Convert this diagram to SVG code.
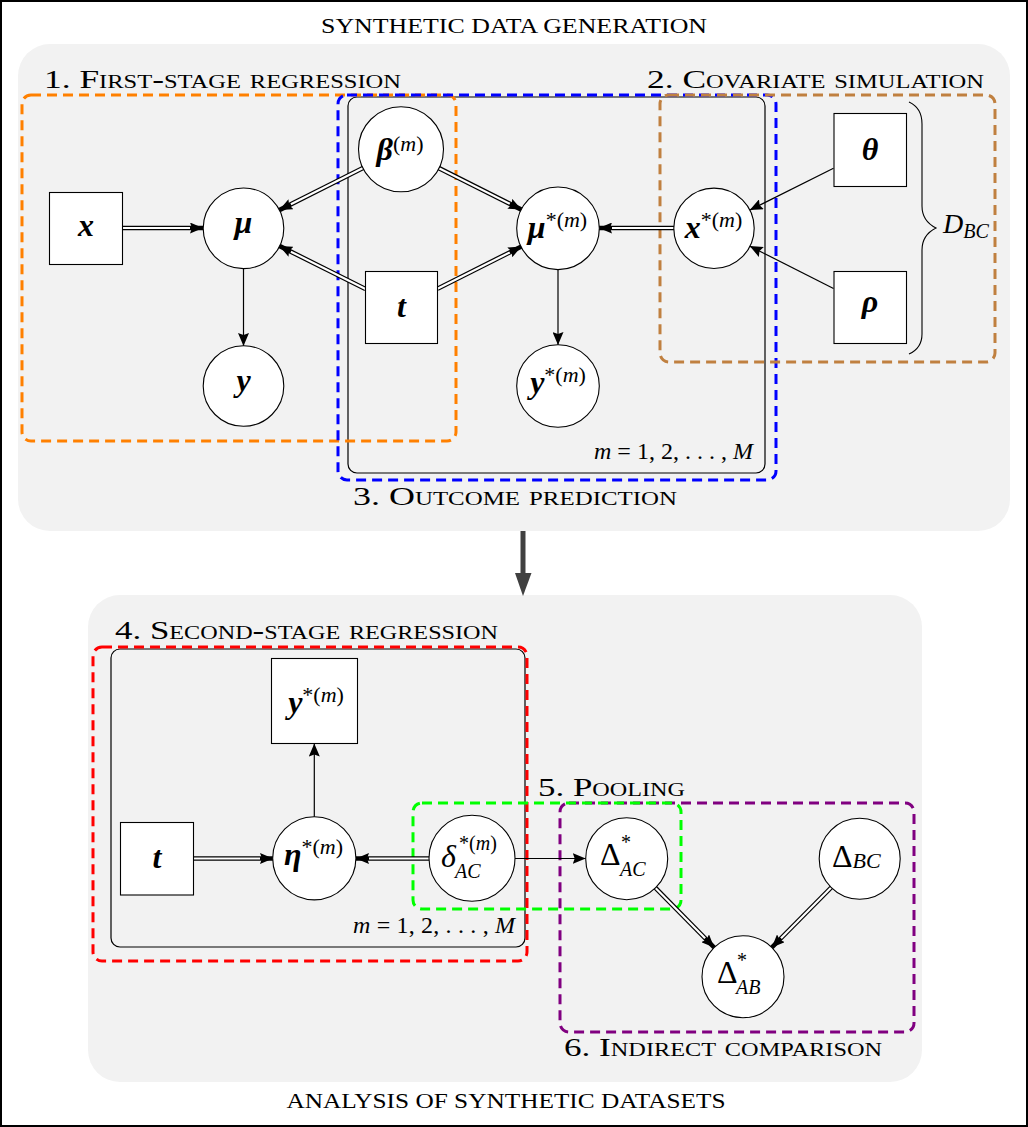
<svg xmlns="http://www.w3.org/2000/svg" width="1028" height="1127" viewBox="0 0 1028 1127">
<defs>
<style>
text{font-family:"Liberation Serif","DejaVu Serif",serif;fill:#000}
.title{font-size:22px}
.sec{font-size:26px;font-variant:small-caps}
.node{fill:#fff;stroke:#000;stroke-width:1.1}
.plate{fill:none;stroke:#000;stroke-width:1.2}
.dash{fill:none;stroke-width:3;stroke-dasharray:10 6}
.dbl{fill:none;stroke:#000;stroke-width:4.6}
.dbw{fill:none;stroke:#fff;stroke-width:2.2}
.sgl{fill:none;stroke:#000;stroke-width:1.2}
.v{font-size:32px;font-style:italic;font-weight:bold}
.g{font-size:32px}
.sup{font-size:22px;font-style:normal;font-weight:normal}
.supi{font-size:22px;font-style:italic;font-weight:normal}
.sub{font-size:22px;font-style:italic;font-weight:normal}
.ss{font-size:20px}
.mlab{font-size:24px}
</style>
<marker id="ah" markerUnits="userSpaceOnUse" markerWidth="14" markerHeight="11" refX="13" refY="5.5" orient="auto">
<path d="M0,0 L13,5.5 L0,11 L2,5.5 Z" fill="#000"/>
</marker>
</defs>

<rect x="1" y="1" width="1026" height="1125" fill="#fff" stroke="#000" stroke-width="2"/>

<g id="panels">
<rect x="18" y="44" width="992" height="487" rx="32" fill="#f2f2f2"/>
<rect x="88" y="595" width="834" height="487" rx="32" fill="#f2f2f2"/>
<line x1="523" y1="531" x2="523" y2="574" stroke="#404040" stroke-width="5"/>
<path d="M515,573 L531.5,573 L523,596 Z" fill="#404040"/>
</g>

<g id="titles">
<text class="title" x="514" y="33" text-anchor="middle" textLength="386" lengthAdjust="spacingAndGlyphs">SYNTHETIC DATA GENERATION</text>
<text class="title" x="506" y="1108" text-anchor="middle" textLength="439" lengthAdjust="spacingAndGlyphs">ANALYSIS OF SYNTHETIC DATASETS</text>
<text class="sec" x="44" y="88" textLength="357" lengthAdjust="spacingAndGlyphs">1. First-stage regression</text>
<text class="sec" x="647" y="88" textLength="337" lengthAdjust="spacingAndGlyphs">2. Covariate simulation</text>
<text class="sec" x="353" y="505" textLength="324" lengthAdjust="spacingAndGlyphs">3. Outcome prediction</text>
<text class="sec" x="115" y="639" textLength="383" lengthAdjust="spacingAndGlyphs">4. Second-stage regression</text>
<text class="sec" x="538" y="796" textLength="147" lengthAdjust="spacingAndGlyphs">5. Pooling</text>
<text class="sec" x="564" y="1056" textLength="318" lengthAdjust="spacingAndGlyphs">6. Indirect comparison</text>
</g>

<g id="plates">
<rect class="plate" x="348" y="97" width="417" height="376" rx="9"/>
<text class="mlab" x="594" y="459" textLength="159" lengthAdjust="spacing"><tspan font-style="italic">m</tspan> = 1, 2, . . . , <tspan font-style="italic">M</tspan></text>
<rect class="plate" x="111" y="649" width="414" height="298" rx="9"/>
<text class="mlab" x="353" y="933" textLength="162" lengthAdjust="spacing"><tspan font-style="italic">m</tspan> = 1, 2, . . . , <tspan font-style="italic">M</tspan></text>
</g>

<g id="groups">
<rect class="dash" x="22" y="95" width="434" height="346" rx="9" stroke="#ff8000"/>
<rect class="dash" x="338" y="95" width="438" height="385" rx="9" stroke="#0000ff"/>
<rect class="dash" x="660" y="95" width="335" height="267" rx="9" stroke="#c08040"/>
<rect class="dash" x="93" y="647" width="434" height="314" rx="9" stroke="#ff0000"/>
<rect class="dash" x="560" y="803" width="354" height="229" rx="9" stroke="#800080"/>
<rect class="dash" x="413" y="803" width="268" height="106" rx="9" stroke="#00ff00"/>
<path d="M909,102 C918,106 922,114 922,124 L922,206 C922,218 928,224 936,228 C928,232 922,238 922,250 L922,334 C922,344 918,350 909,354" fill="none" stroke="#000" stroke-width="1.1"/>
<text x="943" y="233" font-size="28" font-style="italic">D<tspan font-size="20" dy="5">BC</tspan></text>
</g>

<g id="connectors">
<line class="dbl" x1="123" y1="228" x2="203" y2="228" marker-end="url(#ah)"/>
<line class="dbw" x1="123" y1="228" x2="190" y2="228"/>
<line class="dbl" x1="363.5" y1="167.8" x2="279.3" y2="210.1" marker-end="url(#ah)"/>
<line class="dbw" x1="363.5" y1="167.8" x2="290.9" y2="204.3"/>
<line class="dbl" x1="365.5" y1="289" x2="279.3" y2="245.9" marker-end="url(#ah)"/>
<line class="dbw" x1="365.5" y1="289" x2="290.9" y2="251.7"/>
<line class="dbl" x1="438.5" y1="167.9" x2="521.4" y2="209.6" marker-end="url(#ah)"/>
<line class="dbw" x1="438.5" y1="167.9" x2="509.8" y2="203.8"/>
<line class="dbl" x1="437.5" y1="288.8" x2="521.4" y2="246.5" marker-end="url(#ah)"/>
<line class="dbw" x1="437.5" y1="288.8" x2="509.8" y2="252.4"/>
<line class="dbl" x1="674" y1="228" x2="599" y2="228" marker-end="url(#ah)"/>
<line class="dbw" x1="674" y1="228" x2="612" y2="228"/>
<line class="sgl" x1="833.5" y1="168.2" x2="749.8" y2="210.1" marker-end="url(#ah)"/>
<line class="sgl" x1="833.5" y1="288.5" x2="749.7" y2="246.1" marker-end="url(#ah)"/>
<line class="sgl" x1="243.5" y1="268" x2="243.5" y2="346" marker-end="url(#ah)"/>
<line class="sgl" x1="558" y1="269" x2="558" y2="345" marker-end="url(#ah)"/>
<line class="dbl" x1="194" y1="858.5" x2="273" y2="858.5" marker-end="url(#ah)"/>
<line class="dbw" x1="194" y1="858.5" x2="260" y2="858.5"/>
<line class="dbl" x1="429" y1="858.5" x2="356" y2="858.5" marker-end="url(#ah)"/>
<line class="dbw" x1="429" y1="858.5" x2="369" y2="858.5"/>
<line class="sgl" x1="314.3" y1="817" x2="314.3" y2="743.5" marker-end="url(#ah)"/>
<line class="sgl" x1="515" y1="858.5" x2="585.7" y2="858.5" marker-end="url(#ah)"/>
<line class="dbl" x1="655.5" y1="887.9" x2="714.2" y2="947.5" marker-end="url(#ah)"/>
<line class="dbw" x1="655.5" y1="887.9" x2="705.1" y2="938.2"/>
<line class="dbl" x1="831.2" y1="887.5" x2="771.8" y2="947.5" marker-end="url(#ah)"/>
<line class="dbw" x1="831.2" y1="887.5" x2="781" y2="938.3"/>
</g>

<g id="node-x"><rect class="node" x="49.5" y="192.5" width="73" height="72"/><text class="v" x="86" y="236" text-anchor="middle">x</text></g>
<g id="node-mu"><circle class="node" cx="243.5" cy="228.3" r="40.3"/><text class="v" x="243.5" y="233" text-anchor="middle">μ</text></g>
<g id="node-y"><circle class="node" cx="243.5" cy="386" r="40.3"/><text class="v" x="243.5" y="391" text-anchor="middle">y</text></g>
<g id="node-beta"><circle class="node" cx="401" cy="149.3" r="42.5"/><text class="v" x="400" y="160" text-anchor="middle">β<tspan class="sup" dy="-9">(</tspan><tspan class="supi">m</tspan><tspan class="sup">)</tspan></text></g>
<g id="node-t"><rect class="node" x="365.5" y="271.5" width="72" height="72"/><text class="v" x="401.5" y="317" text-anchor="middle">t</text></g>
<g id="node-mustar"><circle class="node" cx="558" cy="228.3" r="41.3"/><text class="v" x="557.5" y="238" text-anchor="middle">μ<tspan class="sup" dy="-11">*(</tspan><tspan class="supi">m</tspan><tspan class="sup">)</tspan></text></g>
<g id="node-ystar"><circle class="node" cx="558" cy="386" r="41.3"/><text class="v" x="558" y="393" text-anchor="middle">y<tspan class="sup" dy="-11">*(</tspan><tspan class="supi">m</tspan><tspan class="sup">)</tspan></text></g>
<g id="node-xstar"><circle class="node" cx="714" cy="228.3" r="40.2"/><text class="v" x="713.5" y="238" text-anchor="middle">x<tspan class="sup" dy="-11">*(</tspan><tspan class="supi">m</tspan><tspan class="sup">)</tspan></text></g>
<g id="node-theta"><rect class="node" x="834" y="113.5" width="72.5" height="73"/><text class="v" x="870" y="160" text-anchor="middle">θ</text></g>
<g id="node-rho"><rect class="node" x="834" y="271.5" width="72.5" height="72"/><text class="v" x="870" y="312" text-anchor="middle">ρ</text></g>

<g id="node-ystar2"><rect class="node" x="271.5" y="658.5" width="86" height="85"/><text class="v" x="316" y="713" text-anchor="middle">y<tspan class="sup" dy="-11">*(</tspan><tspan class="supi">m</tspan><tspan class="sup">)</tspan></text></g>
<g id="node-t2"><rect class="node" x="120.5" y="822.5" width="73" height="72.5"/><text class="v" x="157" y="868" text-anchor="middle">t</text></g>
<g id="node-eta"><circle class="node" cx="314.3" cy="858.3" r="41.6"/><text class="v" x="313.5" y="865" text-anchor="middle">η<tspan class="sup" dy="-11">*(</tspan><tspan class="supi">m</tspan><tspan class="sup">)</tspan></text></g>
<g id="node-delta"><circle class="node" cx="472" cy="858.3" r="43"/><text class="g" x="441" y="867" font-style="italic">δ</text><text class="sup ss" x="459" y="850">*(<tspan class="supi ss">m</tspan>)</text><text class="sub ss" x="455" y="878">AC</text></g>
<g id="node-DAC"><circle class="node" cx="626.7" cy="858.7" r="41"/><text class="g" x="600" y="865">Δ</text><text class="sup ss" x="621" y="849">*</text><text class="sub ss" x="620" y="876">AC</text></g>
<g id="node-DBC"><circle class="node" cx="859.7" cy="858.7" r="40.5"/><text class="g" x="832" y="867">Δ<tspan class="sub" dy="1">BC</tspan></text></g>
<g id="node-DAB"><circle class="node" cx="743" cy="976.7" r="41"/><text class="g" x="717" y="983">Δ</text><text class="sup ss" x="737" y="967">*</text><text class="sub ss" x="736" y="994">AB</text></g>
</svg>
